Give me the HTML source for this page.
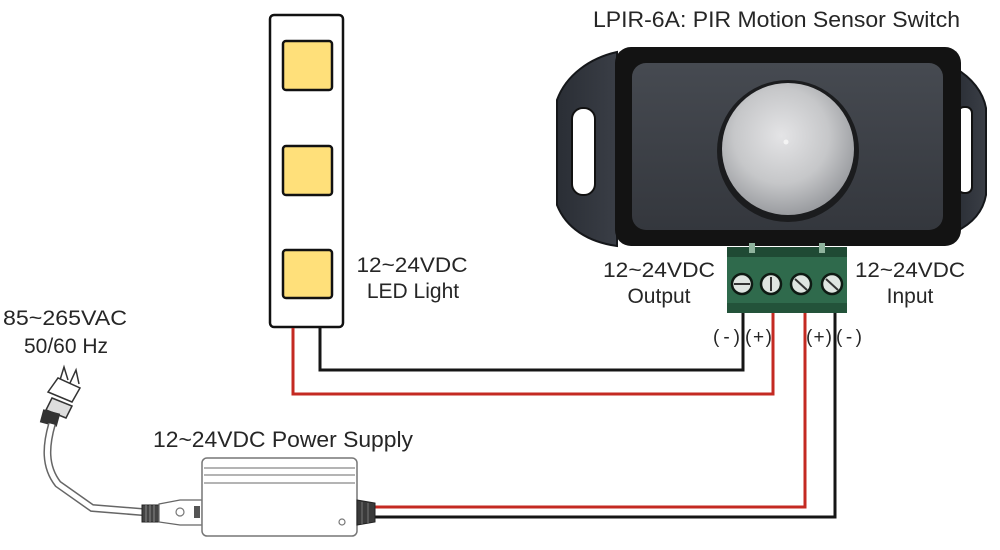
<!DOCTYPE html>
<html>
<head>
<meta charset="utf-8">
<style>
  html,body{margin:0;padding:0;background:#fff;}
  svg{display:block;}
  text{font-family:"Liberation Sans",Arial,sans-serif;fill:#262626;}
</style>
</head>
<body>
<svg width="1000" height="550" viewBox="0 0 1000 550" xmlns="http://www.w3.org/2000/svg">
  <defs>
    <radialGradient id="dome" cx="45%" cy="40%" r="60%">
      <stop offset="0" stop-color="#e4e4e6"/>
      <stop offset="0.6" stop-color="#c6c7c9"/>
      <stop offset="1" stop-color="#9a9ca0"/>
    </radialGradient>
    <linearGradient id="panel" x1="0" y1="0" x2="0" y2="1">
      <stop offset="0" stop-color="#464a51"/>
      <stop offset="1" stop-color="#34373d"/>
    </linearGradient>
    <linearGradient id="ear" x1="0" y1="0" x2="1" y2="0">
      <stop offset="0" stop-color="#2a2e35"/>
      <stop offset="1" stop-color="#3a3e46"/>
    </linearGradient>
  </defs>

  <!-- Title -->
  <text x="593" y="27" font-size="22" textLength="367" lengthAdjust="spacingAndGlyphs">LPIR-6A: PIR Motion Sensor Switch</text>

  <!-- Sensor ears -->
  <path d="M617 52 C590 58 566 75 557 100 L557 205 C566 228 588 242 617 246 Z" fill="url(#ear)" stroke="#15171a" stroke-width="2"/>
  <rect x="572" y="108" width="23" height="87" rx="11" fill="#fff" stroke="#111" stroke-width="2"/>
  <path d="M955 68 C972 78 983 92 986 108 L986 195 C983 212 972 224 955 232 Z" fill="url(#ear)" stroke="#15171a" stroke-width="2"/>
  <rect x="958" y="107" width="14" height="86" rx="6" fill="#fff" stroke="#111" stroke-width="2"/>

  <!-- Sensor body -->
  <rect x="615" y="47" width="346" height="199" rx="16" fill="#131313"/>
  <rect x="632" y="63" width="311" height="167" rx="14" fill="url(#panel)"/>
  <circle cx="788" cy="151" r="71" fill="#1b1c1e"/>
  <circle cx="788" cy="149" r="66" fill="url(#dome)"/>
  <circle cx="786" cy="142" r="2.5" fill="#f4f4f4"/>

  <!-- Terminal block -->
  <rect x="727" y="247" width="120" height="66" fill="#2f6a4c"/>
  <rect x="727" y="247" width="120" height="10" fill="#1f4a34"/>
  <rect x="749" y="243" width="6" height="10" fill="#8fb39d"/>
  <rect x="819" y="243" width="6" height="10" fill="#8fb39d"/>
  <rect x="727" y="303" width="120" height="10" fill="#23533a"/>
  <g stroke="#0e1a13" stroke-width="2.5" fill="#dfe5e1">
    <circle cx="742" cy="284" r="10"/>
    <circle cx="771" cy="284" r="10"/>
    <circle cx="801" cy="284" r="10"/>
    <circle cx="832" cy="284" r="10"/>
  </g>
  <g stroke="#333" stroke-width="2">
    <line x1="734" y1="284" x2="750" y2="284"/>
    <line x1="771" y1="277" x2="771" y2="291"/>
    <line x1="795" y1="279" x2="807" y2="290"/>
    <line x1="826" y1="279" x2="838" y2="290"/>
  </g>

  <!-- Output / Input labels -->
  <text x="659" y="277" font-size="21" text-anchor="middle" textLength="112" lengthAdjust="spacingAndGlyphs">12~24VDC</text>
  <text x="659" y="303" font-size="21" text-anchor="middle">Output</text>
  <text x="910" y="277" font-size="21" text-anchor="middle" textLength="110" lengthAdjust="spacingAndGlyphs">12~24VDC</text>
  <text x="910" y="303" font-size="21" text-anchor="middle">Input</text>

  <!-- LED strip -->
  <rect x="270" y="15" width="73" height="312" rx="4" fill="#fff" stroke="#111" stroke-width="2.5"/>
  <rect x="283" y="41" width="49" height="49" rx="3" fill="#ffe07a" stroke="#111" stroke-width="2.5"/>
  <rect x="283" y="146" width="49" height="49" rx="3" fill="#ffe07a" stroke="#111" stroke-width="2.5"/>
  <rect x="283" y="250" width="49" height="48" rx="3" fill="#ffe07a" stroke="#111" stroke-width="2.5"/>
  <text x="412" y="272" font-size="21" text-anchor="middle" textLength="111" lengthAdjust="spacingAndGlyphs">12~24VDC</text>
  <text x="413" y="298" font-size="21" text-anchor="middle">LED Light</text>

  <!-- Wires -->
  <g fill="none" stroke-linejoin="miter">
    <polyline points="320,328 320,370 743,370 743,313" stroke="#151515" stroke-width="3"/>
    <polyline points="293,328 293,394 773,394 773,313" stroke="#c42a22" stroke-width="3"/>
    <polyline points="375,507 805,507 805,313" stroke="#c42a22" stroke-width="3"/>
    <polyline points="375,517 835,517 835,313" stroke="#151515" stroke-width="3"/>
  </g>

  <!-- polarity labels -->
  <g font-size="19">
    <text x="713" y="343" textLength="27" lengthAdjust="spacing">(-)</text>
    <text x="745" y="343" textLength="27" lengthAdjust="spacing">(+)</text>
    <text x="806" y="343" textLength="26" lengthAdjust="spacing">(+)</text>
    <text x="836" y="343" textLength="26" lengthAdjust="spacing">(-)</text>
  </g>

  <!-- AC labels -->
  <text x="65" y="325" font-size="21" text-anchor="middle" textLength="124" lengthAdjust="spacingAndGlyphs">85~265VAC</text>
  <text x="66" y="353" font-size="21" text-anchor="middle">50/60 Hz</text>

  <!-- Power supply label -->
  <text x="153" y="447" font-size="22" textLength="260" lengthAdjust="spacingAndGlyphs">12~24VDC Power Supply</text>

  <!-- Plug -->
  <g stroke="#333" stroke-width="1.5" fill="#fff">
    <path d="M60 380 L64 367 L68 380" fill="none"/>
    <path d="M70 383 L76 370 L79 384" fill="none"/>
    <path d="M48 392 L58 378 L80 388 L72 402 Z"/>
    <path d="M52 398 L72 406 L66 418 L46 410 Z" fill="#ddd"/>
    <rect x="42" y="412" width="16" height="12" fill="#333" transform="rotate(15 50 418)"/>
  </g>
  <!-- Cable -->
  <path d="M52 424 C46 445 44 466 58 484 L92 508 L142 512" fill="none" stroke="#666" stroke-width="8" stroke-linecap="butt"/>
  <path d="M52 424 C46 445 44 466 58 484 L92 508 L142 512" fill="none" stroke="#fff" stroke-width="5" stroke-linecap="butt"/>

  <!-- PS connectors -->
  <rect x="142" y="505" width="17" height="17" fill="#444" stroke="#222" stroke-width="1"/>
  <g stroke="#888" stroke-width="1"><line x1="146" y1="505" x2="146" y2="522"/><line x1="150" y1="505" x2="150" y2="522"/><line x1="154" y1="505" x2="154" y2="522"/></g>
  <path d="M159 504 L180 500 L202 500 L202 525 L180 525 L159 522 Z" fill="#fff" stroke="#666" stroke-width="1.2"/>
  <circle cx="180" cy="512" r="4" fill="none" stroke="#777" stroke-width="1.2"/>
  <rect x="194" y="506" width="6" height="12" fill="#555"/>

  <!-- PS box -->
  <rect x="202" y="458" width="155" height="78" rx="5" fill="#fff" stroke="#777" stroke-width="1.5"/>
  <g stroke="#888" stroke-width="1.3">
    <line x1="204" y1="468" x2="355" y2="468"/>
    <line x1="204" y1="475" x2="355" y2="475"/>
    <line x1="204" y1="483" x2="355" y2="483"/>
  </g>
  <circle cx="342" cy="522" r="3" fill="none" stroke="#777" stroke-width="1.2"/>
  <path d="M357 500 L375 503 L375 522 L357 525 Z" fill="#3a3a3a" stroke="#222" stroke-width="1"/>
  <g stroke="#777" stroke-width="1"><line x1="362" y1="502" x2="362" y2="524"/><line x1="368" y1="503" x2="368" y2="523"/></g>
</svg>
</body>
</html>
